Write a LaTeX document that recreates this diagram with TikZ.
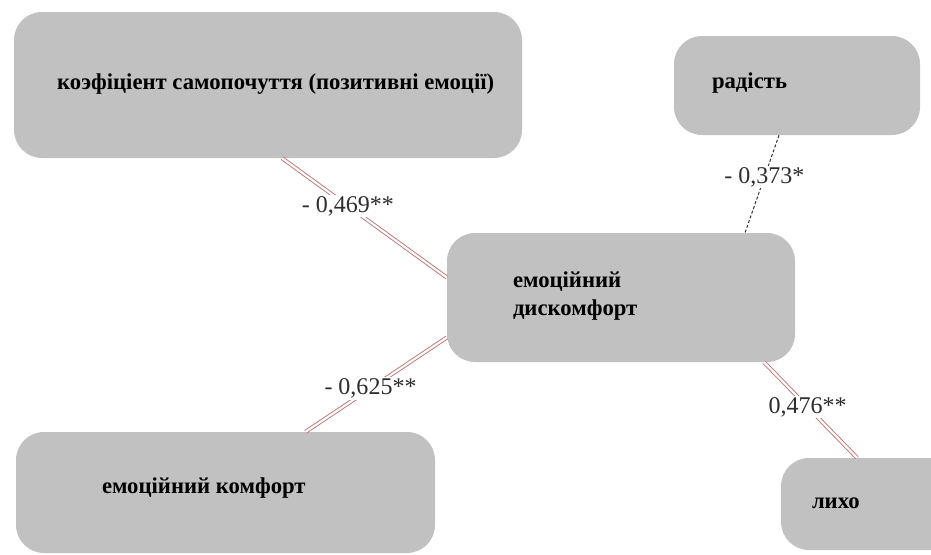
\documentclass[tikz,border=0pt]{standalone}
\usepackage{fontspec}
\setmainfont{Liberation Serif}[BoldFont={LiberationSerif-Bold}]
\usetikzlibrary{calc}
\definecolor{boxgray}{RGB}{193,193,193}
\definecolor{linkred}{RGB}{190,115,115}
\definecolor{labelgray}{RGB}{45,45,45}
\begin{document}
\begin{tikzpicture}[x=1pt,y=-1pt,
  box/.style={fill=boxgray,draw=none,rounded corners=28pt,inner sep=0pt},
  boxtext/.style={anchor=west,inner sep=0pt,font=\fontsize{22.7}{28}\selectfont\bfseries,align=left},
  coeff/.style={fill=white,inner sep=1.5pt,text=labelgray,font=\fontsize{24}{28}\selectfont},
  strong/.style={draw=linkred,line width=0.9pt,double=white,double distance=2.2pt},
  weak/.style={draw=black!80,line width=1pt,dash pattern=on 3pt off 2pt}]
\useasboundingbox (0,0) rectangle (931,554);
\clip (0,0) rectangle (931,554);

% boxes
\node[box,minimum width=508pt,minimum height=146pt] (wb) at (268,85) {};
\node[box,minimum width=246pt,minimum height=99pt] (joy) at (797,85.5) {};
\node[box,minimum width=348pt,minimum height=129pt] (dis) at (621,297.5) {};
\node[box,minimum width=419pt,minimum height=121pt] (com) at (225.5,492.5) {};
\node[box,minimum width=190pt,minimum height=92pt] (woe) at (876,504) {};

% box captions
\node[boxtext] (wbt) at ($(wb.west)+(43,-1)$) {коэфіціент самопочуття (позитивні емоції)};
\node[boxtext] (joyt) at ($(joy.west)+(38,-2)$) {радість};
\node[boxtext] (dist) at ($(dis.west)+(66,-1)$) {емоційний\\дискомфорт};
\node[boxtext] (comt) at ($(com.west)+(86,-4)$) {емоційний комфорт};
\node[boxtext] (woet) at ($(woe.west)+(31,-1)$) {лихо};

% links with correlation coefficients
\draw[strong] ([xshift=14pt]wb.south) -- node[coeff,pos=0.4] {- 0,469**} ([yshift=20pt]dis.west);
\draw[weak] ([xshift=-18pt]joy.south) -- node[coeff,pos=0.43] {- 0,373*} ([xshift=124pt]dis.north);
\draw[strong] ([yshift=-40pt]dis.west) -- node[coeff,pos=0.54] {- 0,625**} ([xshift=80pt]com.north);
\draw[strong] ([xshift=143pt]dis.south) -- node[coeff,pos=0.47] {0,476**} ([xshift=-19pt]woe.north);
\end{tikzpicture}
\end{document}
